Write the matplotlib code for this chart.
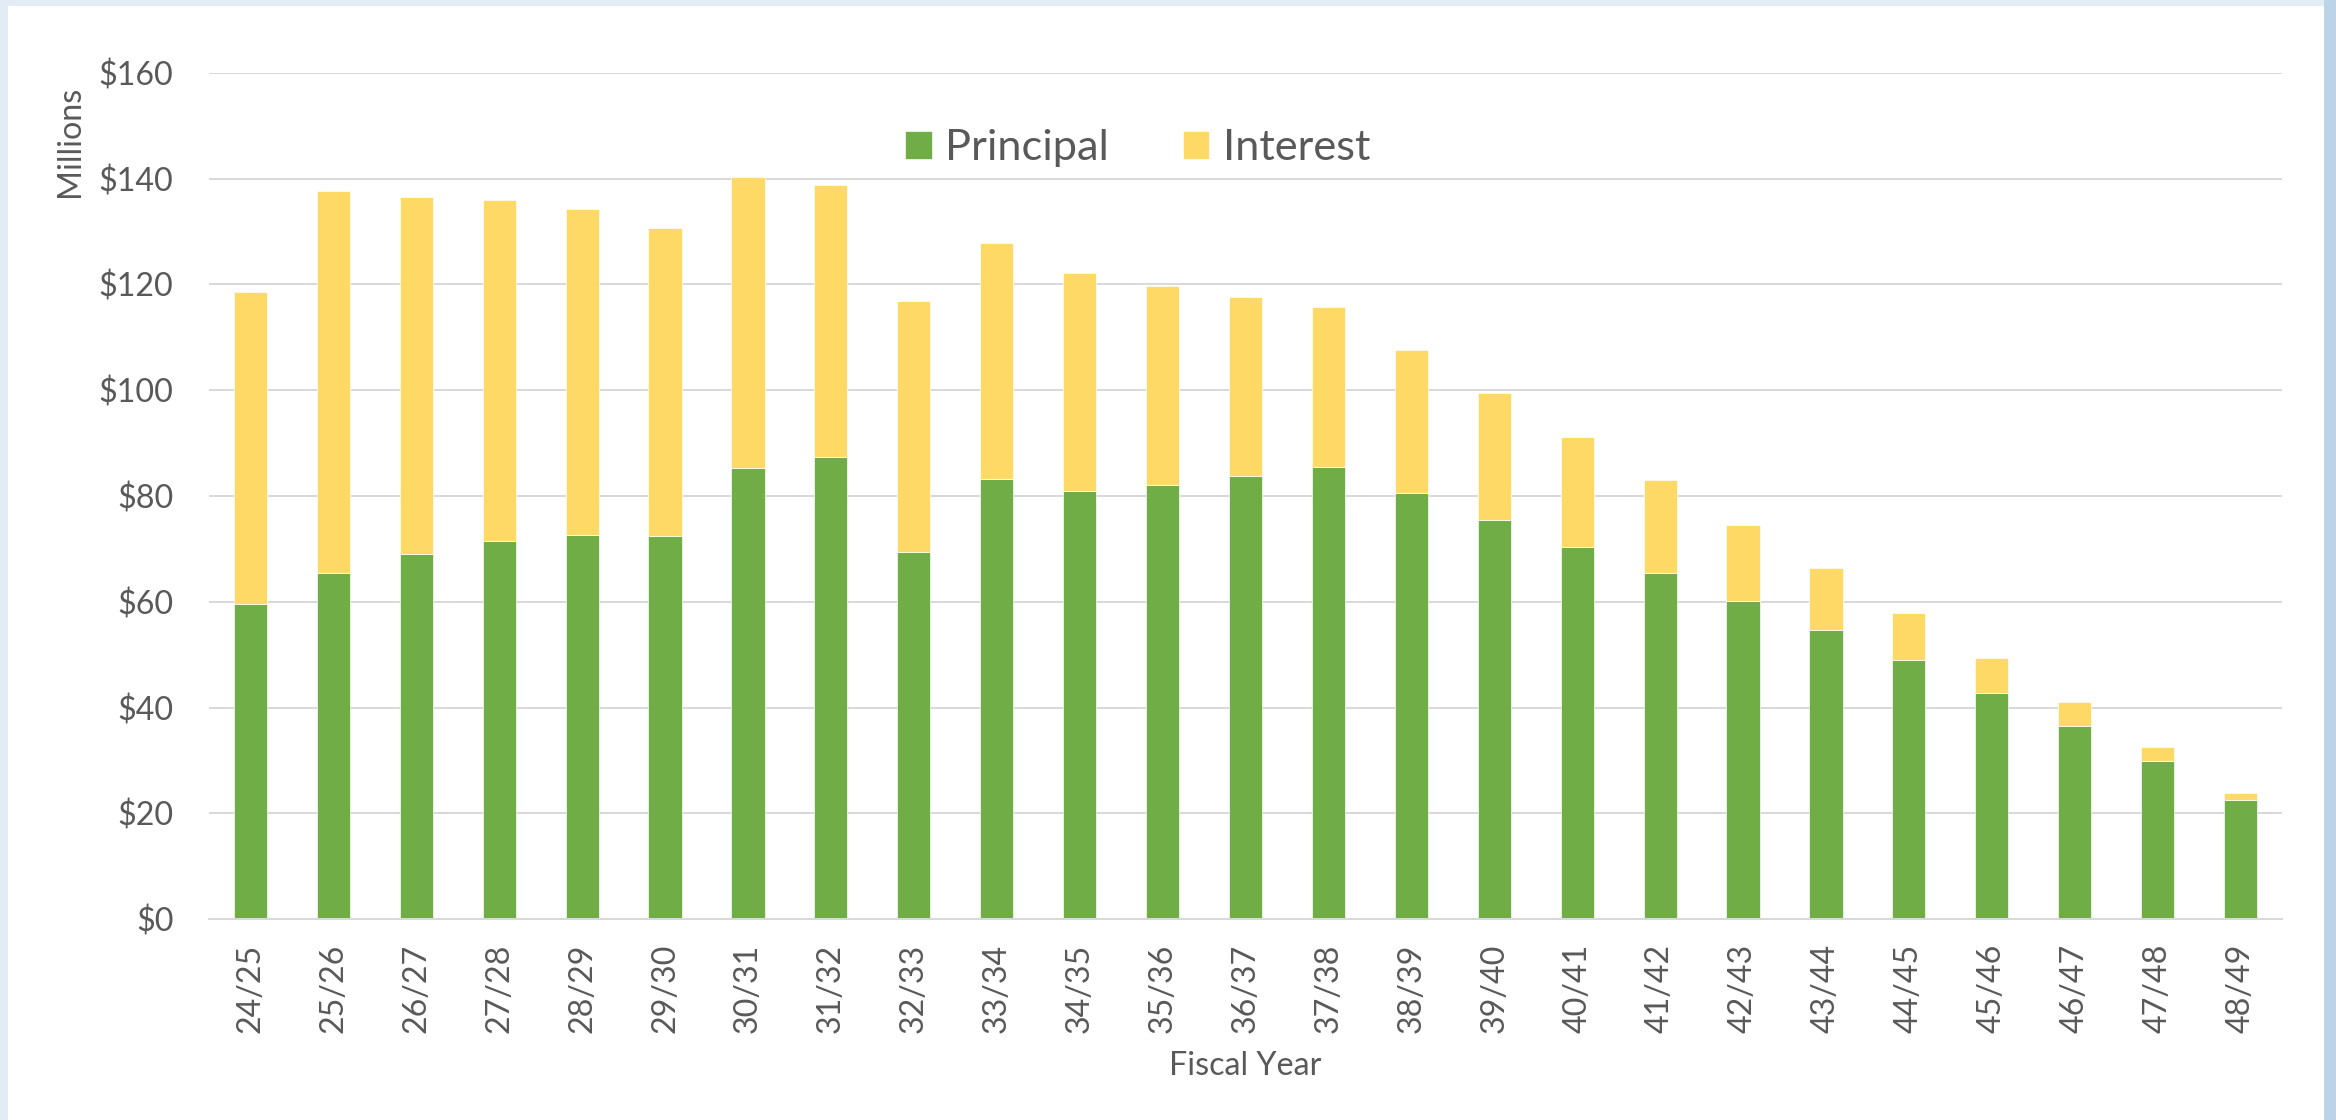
import matplotlib
matplotlib.use("Agg")
import matplotlib.pyplot as plt
from matplotlib.patches import Rectangle

years = ["24/25", "25/26", "26/27", "27/28", "28/29", "29/30", "30/31", "31/32",
         "32/33", "33/34", "34/35", "35/36", "36/37", "37/38", "38/39", "39/40",
         "40/41", "41/42", "42/43", "43/44", "44/45", "45/46", "46/47", "47/48", "48/49"]
principal = [59.6, 65.5, 69.1, 71.4, 72.7, 72.4, 85.3, 87.4, 69.5, 83.2, 81.0, 82.1,
             83.8, 85.4, 80.6, 75.5, 70.4, 65.4, 60.2, 54.7, 48.9, 42.8, 36.5, 29.9, 22.6]
interest = [59.0, 72.2, 67.5, 64.5, 61.5, 58.3, 55.0, 51.4, 47.4, 44.6, 41.2, 37.7,
            33.8, 30.3, 27.0, 23.9, 20.8, 17.7, 14.4, 11.6, 9.0, 6.6, 4.5, 2.7, 1.2]
yticks = [0, 20, 40, 60, 80, 100, 120, 140, 160]

GREEN, YELLOW = "#70AD47", "#FFD966"
TEXT, GRID = "#595959", "#D9D9D9"
W, H, DPI = 2336, 1120, 160

plt.rcParams["font.family"] = ["Lato", "DejaVu Sans"]

fig = plt.figure(figsize=(W / DPI, H / DPI), dpi=DPI)
fig.patch.set_facecolor("#e3ecf5")
# white panel + right blue strip
fig.add_artist(Rectangle((8 / W, 0), (2324 - 8) / W, 1 - 6 / H,
                         transform=fig.transFigure, fc="white", ec="none", zorder=0))
fig.add_artist(Rectangle((2324 / W, 0), 12 / W, 1,
                         transform=fig.transFigure, fc="#bcd3e8", ec="none", zorder=0))

ax = fig.add_axes([209 / W, 1 - 919 / H, (2282 - 209) / W, (919 - 73) / H])
ax.set_facecolor("none")
x = range(len(years))
ax.bar(x, principal, width=0.4, color=GREEN, edgecolor="white", linewidth=0.3,
       label="Principal", zorder=3)
ax.bar(x, interest, width=0.4, bottom=principal, color=YELLOW, edgecolor="white",
       linewidth=0.3, label="Interest", zorder=3)

ax.set_xlim(-0.5, len(years) - 0.5)
ax.set_ylim(0, 160)
ax.set_yticks(yticks)
ax.set_yticklabels([f"${v}" for v in yticks])
ax.set_xticks(list(x))
ax.set_xticklabels(years, rotation=90)
ax.tick_params(axis="y", length=0, pad=16, labelsize=14.5, labelcolor=TEXT)
ax.tick_params(axis="x", length=0, pad=11, labelsize=14.5, labelcolor=TEXT)
ax.grid(axis="y", color=GRID, linewidth=0.9, zorder=0)
for s in ["left", "right", "top"]:
    ax.spines[s].set_visible(False)
ax.spines["bottom"].set_color(GRID)
ax.spines["bottom"].set_linewidth(0.9)
ax.spines["bottom"].set_zorder(4)

ax.set_xlabel("Fiscal Year", color=TEXT, fontsize=14.5, labelpad=8)
fig.text(70 / W, 1 - 141 / H, "Millions", rotation=90, ha="center", va="center",
         color=TEXT, fontsize=14.5)

leg = ax.legend(loc="center", bbox_to_anchor=(0.448, 0.911), ncol=2, frameon=False,
                fontsize=19.5, handlelength=0.62, handleheight=0.62,
                handletextpad=0.32, columnspacing=1.69, labelcolor=TEXT)

fig.savefig("out.png", dpi=DPI, facecolor=fig.get_facecolor())
